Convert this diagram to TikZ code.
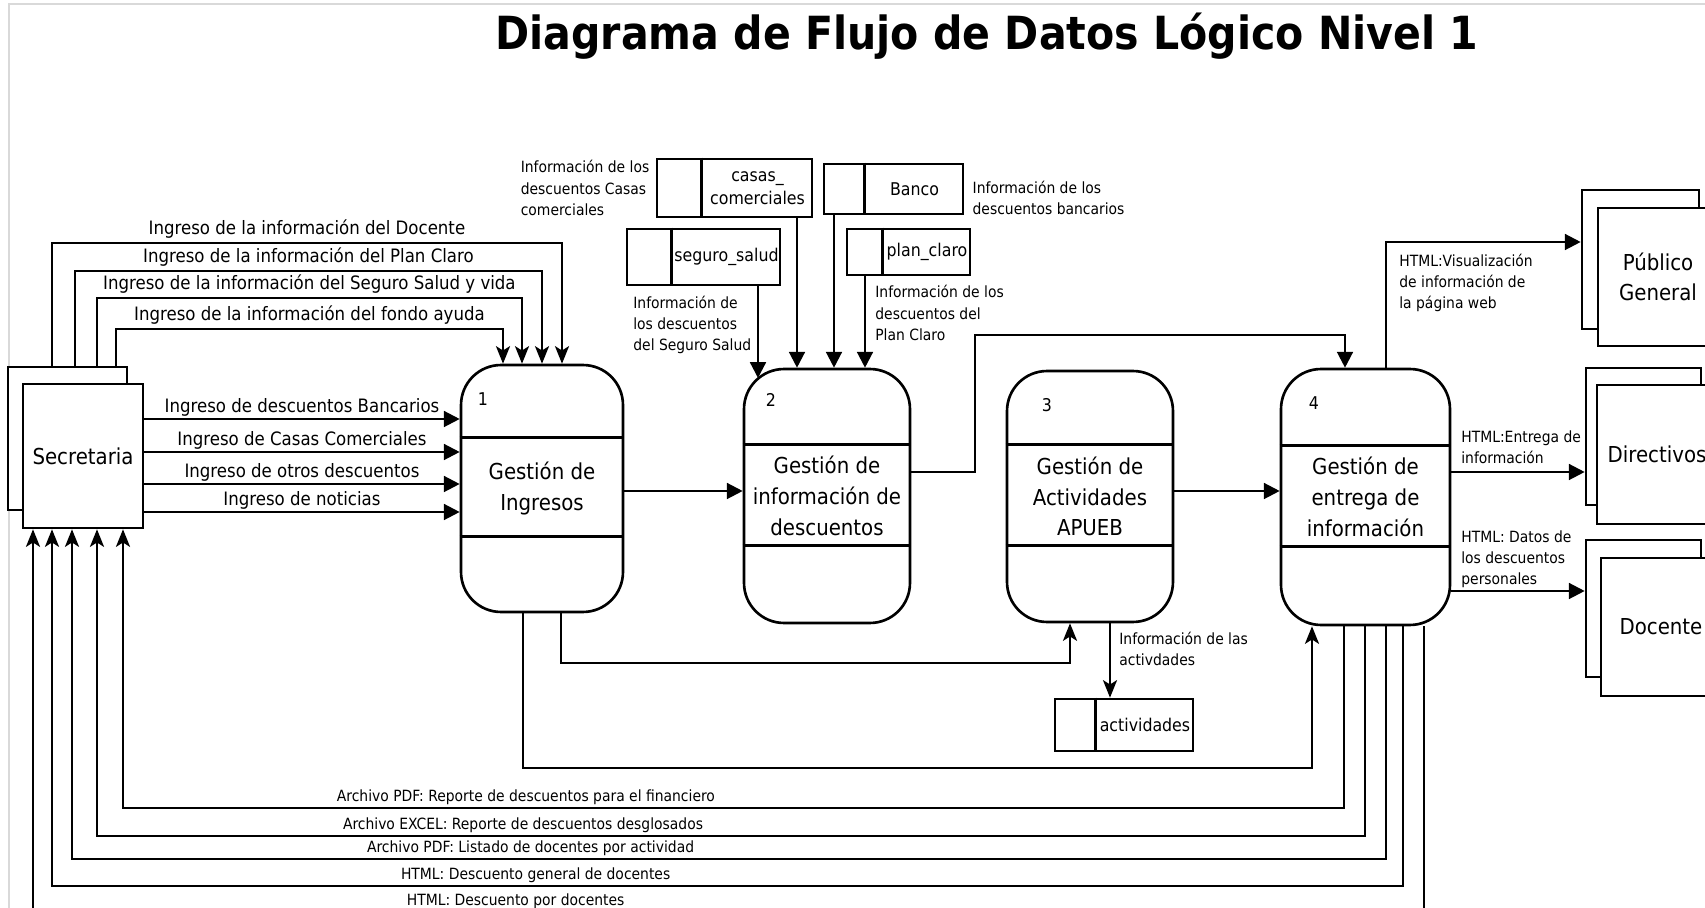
\documentclass[tikz,border=0pt]{standalone}
\usepackage{fontspec}
\setmainfont{DejaVu Sans}
\newfontfamily\condfont{DejaVu Sans Condensed}
\usetikzlibrary{arrows.meta,positioning}

\begin{document}
\begin{tikzpicture}[x=0.02cm, y=-0.02cm,
  proc/.style={draw, line width=1.5pt, rounded corners=0.8cm, align=center, inner sep=0pt,
    font=\condfont\fontsize{12.5}{17.5}\selectfont},
  ent/.style={draw, fill=white, line width=1.5pt, minimum width=2.4cm, minimum height=2.8cm,
    inner sep=0pt, align=center, font=\condfont\fontsize{12.5}{17.5}\selectfont},
  store/.style={draw, line width=1.5pt, inner sep=0pt},
  storetxt/.style={font=\condfont\fontsize{10}{13}\selectfont, align=center, inner sep=0pt},
  num/.style={font=\condfont\fontsize{10}{12}\selectfont},
  divider/.style={line width=1.5pt},
  flow/.style={line width=1.3pt},
  arr/.style={flow, -{Triangle[length=9pt,width=9pt]}},
  sarr/.style={flow, -{Stealth[length=10pt,width=8pt,inset=2.5pt]}},
  biglbl/.style={font=\condfont\fontsize{10.5}{12}\selectfont, inner sep=2pt},
  info/.style={font=\condfont\fontsize{8.8}{12}\selectfont, align=left, inner sep=0pt},
  botlbl/.style={font=\condfont\fontsize{8.8}{10}\selectfont, inner sep=1.2pt}
]
\useasboundingbox (0,0) rectangle (1705,908);
\clip (0,0) rectangle (1705,908);
\draw[gray!30, line width=1.2pt] (9,908) -- (9,4) -- (1705,4);

\node[font=\condfont\bfseries\fontsize{26}{30}\selectfont] (title) at (987,36) {Diagrama de Flujo de Datos Lógico Nivel 1};

% entidades externas
\node[ent, minimum width=2.38cm, minimum height=2.86cm] (secb) at (67.5,438.5) {};
\node[ent, minimum height=2.88cm] (sec) at (83,456) {Secretaria};
\node[ent, minimum width=2.34cm, minimum height=2.78cm] (pubb) at (1640.5,259.5) {};
\node[ent, minimum height=2.76cm] (pub) at (1658,277) {Público\\General};
\node[ent, minimum width=2.3cm, minimum height=2.74cm] (dirb) at (1643.5,436.5) {};
\node[ent, minimum height=2.78cm] (dir) at (1657,454.5) {Directivos};
\node[ent, minimum width=2.3cm, minimum height=2.74cm] (docb) at (1643.5,608.5) {};
\node[ent, minimum height=2.76cm] (doc) at (1661,627) {Docente};

% procesos
\node[proc, minimum width=3.24cm, minimum height=4.94cm] (p1) at (542,488.5) {Gestión de\\Ingresos};
\node[proc, minimum width=3.32cm, minimum height=5.08cm] (p2) at (827,496) {Gestión de\\información de\\descuentos};
\node[proc, minimum width=3.32cm, minimum height=5.02cm] (p3) at (1090,496.5) {Gestión de\\Actividades\\APUEB};
\node[proc, minimum width=3.38cm, minimum height=5.12cm] (p4) at (1365.5,497) {Gestión de\\entrega de\\información};
\draw[divider] ([yshift=-1.48cm]p1.north west) -- ([yshift=-1.48cm]p1.north east);
\draw[divider] ([yshift=-3.46cm]p1.north west) -- ([yshift=-3.46cm]p1.north east);
\draw[divider] ([yshift=-1.54cm]p2.north west) -- ([yshift=-1.54cm]p2.north east);
\draw[divider] ([yshift=-3.56cm]p2.north west) -- ([yshift=-3.56cm]p2.north east);
\draw[divider] ([yshift=-1.5cm]p3.north west) -- ([yshift=-1.5cm]p3.north east);
\draw[divider] ([yshift=-3.52cm]p3.north west) -- ([yshift=-3.52cm]p3.north east);
\draw[divider] ([yshift=-1.56cm]p4.north west) -- ([yshift=-1.56cm]p4.north east);
\draw[divider] ([yshift=-3.58cm]p4.north west) -- ([yshift=-3.58cm]p4.north east);
\node[num] (n1) at (483,399) {1};
\node[num] (n2) at (771,400) {2};
\node[num] (n3) at (1047,405) {3};
\node[num] (n4) at (1314,403) {4};

% almacenes
\node[store, minimum width=3.1cm, minimum height=1.16cm,
  label={[storetxt, xshift=0.46cm]center:{casas\_\\comerciales}}] (dcasas) at (734.5,188) {};
\node[store, minimum width=2.78cm, minimum height=1cm,
  label={[storetxt, xshift=0.42cm]center:Banco}] (dbanco) at (893.5,189) {};
\node[store, minimum width=3.06cm, minimum height=1.12cm,
  label={[storetxt, xshift=0.46cm]center:seguro\_salud}] (dseguro) at (703.5,257) {};
\node[store, minimum width=2.46cm, minimum height=0.92cm,
  label={[storetxt, xshift=0.37cm]center:plan\_claro}] (dplan) at (908.5,252) {};
\node[store, minimum width=2.76cm, minimum height=1.04cm,
  label={[storetxt, xshift=0.42cm]center:actividades}] (dact) at (1124,725) {};
\draw[divider] ([xshift=0.92cm]dcasas.north west) -- ([xshift=0.92cm]dcasas.south west);
\draw[divider] ([xshift=0.84cm]dbanco.north west) -- ([xshift=0.84cm]dbanco.south west);
\draw[divider] ([xshift=0.92cm]dseguro.north west) -- ([xshift=0.92cm]dseguro.south west);
\draw[divider] ([xshift=0.74cm]dplan.north west) -- ([xshift=0.74cm]dplan.south west);
\draw[divider] ([xshift=0.84cm]dact.north west) -- ([xshift=0.84cm]dact.south west);

% textos de los flujos
\node[info, left=0.12cm of dcasas] (icasas) {Información de los\\descuentos Casas\\comerciales};
\node[info, right=0.16cm of dbanco, yshift=-0.18cm] (ibanco) {Información de los\\descuentos bancarios};
\node[info, anchor=west] (iseguro) at (633,325) {Información de\\los descuentos\\del Seguro Salud};
\node[info, anchor=west] (iplan) at (875,313) {Información de los\\descuentos del\\Plan Claro};
\node[info, anchor=west] (iact) at (1119,649) {Información de las\\activdades};
\node[info, anchor=west] (ipub) at (1399,283) {HTML:Visualización\\de información de\\la página web};
\node[info, anchor=west] (idir) at (1461,447) {HTML:Entrega de\\información};
\node[info, anchor=west] (idoc) at (1461,559) {HTML: Datos de\\los descuentos\\personales};

% Secretaria -> 1
\path[draw, sarr] (secb.north -| 52,0) -- (52,243) -- node[biglbl, above] {Ingreso de la información del Docente} (562,243) -- (p1.north -| 562,0);
\path[draw, sarr] (secb.north -| 75,0) -- (75,271) -- node[biglbl, above] {Ingreso de la información del Plan Claro} (542,271) -- (p1.north -| 542,0);
\path[draw, sarr] (secb.north -| 97,0) -- (97,298) -- node[biglbl, above] {Ingreso de la información del Seguro Salud y vida} (522,298) -- (p1.north -| 522,0);
\path[draw, sarr] (secb.north -| 116,0) -- (116,329) -- node[biglbl, above] {Ingreso de la información del fondo ayuda} (503,329) -- (p1.north -| 503,0);
\path[draw, arr] (sec.east |- 0,419) -- node[biglbl, inner sep=1pt, above] {Ingreso de descuentos Bancarios} (p1.west |- 0,419);
\path[draw, arr] (sec.east |- 0,452) -- node[biglbl, inner sep=1pt, above] {Ingreso de Casas Comerciales} (p1.west |- 0,452);
\path[draw, arr] (sec.east |- 0,484) -- node[biglbl, inner sep=1pt, above] {Ingreso de otros descuentos} (p1.west |- 0,484);
\path[draw, arr] (sec.east |- 0,512) -- node[biglbl, inner sep=1pt, above] {Ingreso de noticias} (p1.west |- 0,512);

% 1 -> 2, almacenes -> 2
\path[draw, arr] (p1.east |- 0,491) -- (p2.west |- 0,491);
\coordinate (p2nw) at (758,378);
\path[draw, arr] (dseguro.south -| 758,0) -- (p2nw);
\path[draw, arr] (dcasas.south -| 797,0) -- (p2.north -| 797,0);
\path[draw, arr] (dbanco.south -| 834,0) -- (p2.north -| 834,0);
\path[draw, arr] (dplan.south -| 865,0) -- (p2.north -| 865,0);

% 2 -> 4, 3 -> 4, 1 -> 3, 1 -> 4
\path[draw, arr] (p2.east |- 0,472) -| (975,335) -| (p4.north -| 1345,0);
\path[draw, arr] (p3.east |- 0,491) -- (p4.west |- 0,491);
\path[draw, sarr] (p1.south -| 561,0) -- (561,663) -| (p3.south -| 1070,0);
\path[draw, sarr] (p1.south -| 523,0) -- (523,768) -| (p4.south -| 1312,0);
\path[draw, sarr] (p3.south -| 1110,0) -- (dact.north -| 1110,0);

% 4 -> entidades
\path[draw, arr] (p4.north -| 1386,0) |- (pubb.west |- 0,242);
\path[draw, arr] (p4.east |- 0,472) -- (dirb.west |- 0,472);
\path[draw, arr] (p4.east |- 0,591) -- (docb.west |- 0,591);

% 4 -> Secretaria
\path[draw, sarr] (p4.south -| 1344,0) -- (1344,808) -- node[botlbl, above, pos=0.67] {Archivo PDF: Reporte de descuentos para el financiero} (123,808) -- (sec.south -| 123,0);
\path[draw, sarr] (p4.south -| 1365,0) -- (1365,836) -- node[botlbl, above, pos=0.664] {Archivo EXCEL: Reporte de descuentos desglosados} (97,836) -- (sec.south -| 97,0);
\path[draw, sarr] (p4.south -| 1386,0) -- (1386,859) -- node[botlbl, above, pos=0.651] {Archivo PDF: Listado de docentes por actividad} (72,859) -- (sec.south -| 72,0);
\path[draw, sarr] (p4.south -| 1403,0) -- (1403,886) -- node[botlbl, above, pos=0.642] {HTML: Descuento general de docentes} (52,886) -- (sec.south -| 52,0);
\path[draw, sarr] (p4.south -| 1424,0) -- (1424,912) -- node[botlbl, above, pos=0.653] {HTML: Descuento por docentes} (33,912) -- (sec.south -| 33,0);
\end{tikzpicture}
\end{document}
